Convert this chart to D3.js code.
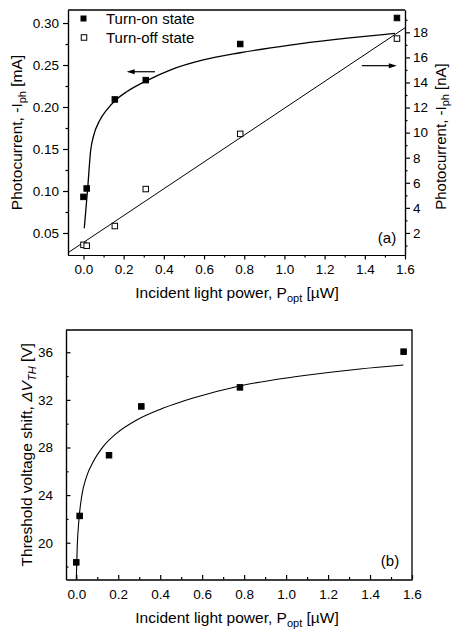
<!DOCTYPE html>
<html>
<head>
<meta charset="utf-8">
<script src="https://cdn.jsdelivr.net/npm/d3@7"></script>
<style>
	body { margin: 0; background: #fff; }
	svg text { font-family: "Liberation Sans", Arial, sans-serif; fill: #000; }
	.axis path, .axis line { stroke: #000; stroke-width: 1.2; }
</style>
</head>
<body>
<div id="chart"></div>
<script>
// incident light power, same for both panels [uW]
const power = [0, 0.016, 0.156, 0.31, 0.78, 1.56];

// panel (a): photocurrent
const turnOn = [0.093, 0.103, 0.209, 0.232, 0.275, 0.306];   // mA, left axis
const turnOff = [1.05, 0.98, 2.55, 5.5, 9.9, 17.5];          // nA, right axis

// fitted curves
const onFitX = [0.004, 0.021, 0.036, 0.049, 0.082, 0.115, 0.165, 0.215, 0.318, 0.431, 0.596, 0.779, 1.028, 1.55];
const onFitY = [0.0556, 0.1032, 0.1488, 0.1646, 0.1845, 0.1964, 0.2092, 0.2182, 0.2318, 0.244, 0.256, 0.2646, 0.2738, 0.2877];
const offFitX = [-0.077, 1.6];
const offFitY = [0.42, 18.36];

// panel (b): threshold voltage shift
const shift = [18.35, 22.25, 27.35, 31.45, 33.05, 36.05];   // V
const shiftFitX = [0.0, 0.0045, 0.0126, 0.0255, 0.049, 0.081, 0.128, 0.192, 0.288, 0.399, 0.494, 0.557, 0.783, 1.034, 1.352, 1.559];
const shiftFitY = [16.92, 19.66, 21.91, 23.87, 25.55, 26.81, 28.07, 29.19, 30.31, 31.2, 31.8, 32.15, 33.19, 33.92, 34.6, 34.93];

// ticks
const xTicks = [0, 0.2, 0.4, 0.6, 0.8, 1.0, 1.2, 1.4, 1.6];
const xMinor = [0.1, 0.3, 0.5, 0.7, 0.9, 1.1, 1.3, 1.5];
const mATicks = [0.05, 0.10, 0.15, 0.20, 0.25, 0.30];
const mAMinor = [0.075, 0.125, 0.175, 0.225, 0.275];
const nATicks = [2, 4, 6, 8, 10, 12, 14, 16, 18];
const nAMinor = [1, 3, 5, 7, 9, 11, 13, 15, 17, 19];
const vTicks = [20, 24, 28, 32, 36];
const vMinor = [18, 22, 26, 30, 34];

const legendLabels = ["Turn-on state", "Turn-off state"];

const W = 452, H = 633;
const svg = d3.select("#chart").append("svg")
	.attr("width", W)
	.attr("height", H);

const line = d3.line()
	.x(d => d[0])
	.y(d => d[1])
	.curve(d3.curveMonotoneX);

function addText(g, parts, attrs, subShift) {
	// parts: {t, sub, i}; sub parts are dropped a few px and drawn smaller
	const ds = subShift || 4;
	let t = g.append("text");
	for (let k in attrs) t.attr(k, attrs[k]);
	let shifted = false;
	parts.forEach(p => {
		let s = t.append("tspan").text(p.t);
		if (p.i) s.style("font-style", "italic");
		if (p.sub) {
			s.attr("font-size", 11).attr("dy", ds);
			shifted = true;
		} else if (shifted) {
			s.attr("dy", -ds);
			shifted = false;
		}
	});
	return t;
}

function square(g, x, y, filled, size) {
	g.append("rect")
		.attr("x", x - size / 2)
		.attr("y", y - size / 2)
		.attr("width", size)
		.attr("height", size)
		.attr("fill", filled ? "#000" : "#fff")
		.attr("stroke", "#000")
		.attr("stroke-width", 1);
}

function arrow(g, x1, x2, y) {
	// shaft from x1 to x2, head at x2
	const dir = x2 > x1 ? 1 : -1;
	g.append("line")
		.attr("x1", x1).attr("x2", x2 - dir * 4)
		.attr("y1", y).attr("y2", y)
		.attr("stroke", "#000").attr("stroke-width", 1.2);
	g.append("path")
		.attr("d", `M${x2},${y}L${x2 - dir * 8},${y - 2.5}L${x2 - dir * 8},${y + 2.5}Z`)
		.attr("fill", "#000");
}

// ---------- panel (a) ----------
const a = { left: 68, right: 405, top: 10, bottom: 255 };

const xA = d3.scaleLinear().domain([-0.077, 1.6]).range([a.left, a.right]);
const yL = d3.scaleLinear().domain([0.0238, 0.3155]).range([a.bottom, a.top]);
const yR = d3.scaleLinear().domain([0.24, 19.78]).range([a.bottom, a.top]);

const gA = svg.append("g");

gA.append("g").attr("class", "axis")
	.attr("transform", `translate(0,${a.bottom})`)
	.call(d3.axisBottom(xA).tickValues(xMinor).tickSize(2.5).tickSizeOuter(0).tickFormat(""));
gA.append("g").attr("class", "axis")
	.attr("transform", `translate(0,${a.bottom})`)
	.call(d3.axisBottom(xA).tickValues(xTicks).tickSize(4.5).tickSizeOuter(0).tickPadding(5).tickFormat(d3.format(".1f")))
	.selectAll("text").attr("font-size", 13.5);

gA.append("g").attr("class", "axis")
	.attr("transform", `translate(${a.left},0)`)
	.call(d3.axisLeft(yL).tickValues(mAMinor).tickSize(2.5).tickSizeOuter(0).tickFormat(""));
gA.append("g").attr("class", "axis")
	.attr("transform", `translate(${a.left},0)`)
	.call(d3.axisLeft(yL).tickValues(mATicks).tickSize(5).tickSizeOuter(0).tickPadding(4).tickFormat(d3.format(".2f")))
	.selectAll("text").attr("font-size", 13.5);

gA.append("g").attr("class", "axis")
	.attr("transform", `translate(${a.right},0)`)
	.call(d3.axisRight(yR).tickValues(nAMinor).tickSize(2.5).tickSizeOuter(0).tickFormat(""));
gA.append("g").attr("class", "axis")
	.attr("transform", `translate(${a.right},0)`)
	.call(d3.axisRight(yR).tickValues(nATicks).tickSize(5).tickSizeOuter(0).tickPadding(3).tickFormat(d3.format("d")))
	.selectAll("text").attr("font-size", 13.5);

gA.selectAll(".axis .domain").attr("stroke-width", 1.3);

// top border
gA.append("line")
	.attr("x1", a.left).attr("x2", a.right)
	.attr("y1", a.top).attr("y2", a.top)
	.attr("stroke", "#000").attr("stroke-width", 1.3);

// fits
gA.append("path")
	.attr("d", line(onFitX.map((x, i) => [xA(x), yL(onFitY[i])])))
	.attr("fill", "none").attr("stroke", "#000").attr("stroke-width", 1.3);
gA.append("path")
	.attr("d", d3.line()(offFitX.map((x, i) => [xA(x), yR(offFitY[i])])))
	.attr("fill", "none").attr("stroke", "#000").attr("stroke-width", 1);

// points
power.forEach((p, i) => square(gA, xA(p), yR(turnOff[i]), false, 5.5));
power.forEach((p, i) => square(gA, xA(p), yL(turnOn[i]), true, 5.5));

// legend
square(gA, 83.5, 18.5, true, 5);
square(gA, 84, 37.5, false, 5.5);
gA.append("text").attr("x", 106).attr("y", 24).attr("font-size", 15).text(legendLabels[0]);
gA.append("text").attr("x", 106).attr("y", 43).attr("font-size", 15).text(legendLabels[1]);

// arrows pointing at the axes
arrow(gA, xA(0.356), xA(0.215), yL(0.242));
arrow(gA, xA(1.385), xA(1.559), yR(15.34));

gA.append("text").attr("x", 387).attr("y", 243).attr("text-anchor", "middle").attr("font-size", 15).text("(a)");

// axis titles
addText(gA, [{ t: "Incident light power, P" }, { t: "opt", sub: true }, { t: " [\u00b5W]" }],
	{ x: 237, y: 298, "text-anchor": "middle", "font-size": 15.5 });
addText(gA, [{ t: "Photocurrent, -I" }, { t: "ph", sub: true }, { t: " [mA]" }],
	{ transform: `translate(21.5,${(a.top + a.bottom) / 2}) rotate(-90)`, "text-anchor": "middle", "font-size": 15.5 });
// right title sits at the page edge, kept just inside it
addText(gA, [{ t: "Photocurrent, -I" }, { t: "ph", sub: true }, { t: " [nA]" }],
	{ transform: `translate(446,${(a.top + a.bottom) / 2 + 4}) rotate(-90)`, "text-anchor": "middle", "font-size": 15 }, 3);

// ---------- panel (b) ----------
const b = { left: 66, right: 412, top: 330, bottom: 579.5 };

const xB = d3.scaleLinear().domain([-0.049, 1.6]).range([b.left, b.right]);
const yB = d3.scaleLinear().domain([16.91, 37.87]).range([b.bottom, b.top]);

const gB = svg.append("g");

gB.append("g").attr("class", "axis")
	.attr("transform", `translate(0,${b.bottom})`)
	.call(d3.axisBottom(xB).tickValues(xMinor).tickSize(-2.5).tickSizeOuter(0).tickFormat(""));
gB.append("g").attr("class", "axis")
	.attr("transform", `translate(0,${b.bottom})`)
	.call(d3.axisBottom(xB).tickValues(xTicks).tickSize(-4.5).tickSizeOuter(0).tickPadding(9.5).tickFormat(d3.format(".1f")))
	.selectAll("text").attr("font-size", 13.5);

gB.append("g").attr("class", "axis")
	.attr("transform", `translate(${b.left},0)`)
	.call(d3.axisLeft(yB).tickValues(vMinor).tickSize(-2.5).tickSizeOuter(0).tickFormat(""));
gB.append("g").attr("class", "axis")
	.attr("transform", `translate(${b.left},0)`)
	.call(d3.axisLeft(yB).tickValues(vTicks).tickSize(-4.5).tickSizeOuter(0).tickPadding(13).tickFormat(d3.format("d")))
	.selectAll("text").attr("font-size", 13.5);

gB.selectAll(".axis .domain").attr("stroke-width", 1.3);

// frame top and right
gB.append("path")
	.attr("d", `M${b.left},${b.top}H${b.right}V${b.bottom}`)
	.attr("fill", "none").attr("stroke", "#000").attr("stroke-width", 1.3);

gB.append("path")
	.attr("d", line(shiftFitX.map((x, i) => [xB(x), yB(shiftFitY[i])])))
	.attr("fill", "none").attr("stroke", "#000").attr("stroke-width", 1.1);

power.forEach((p, i) => square(gB, xB(p), yB(shift[i]), true, 5.5));

gB.append("text").attr("x", 390).attr("y", 566).attr("text-anchor", "middle").attr("font-size", 15).text("(b)");

addText(gB, [{ t: "Incident light power, P" }, { t: "opt", sub: true }, { t: " [\u00b5W]" }],
	{ x: 237, y: 623, "text-anchor": "middle", "font-size": 15.5 });
addText(gB, [{ t: "Threshold voltage shift, " }, { t: "\u0394V", i: true }, { t: "TH", sub: true, i: true }, { t: " [V]" }],
	{ transform: `translate(32,${(b.top + b.bottom) / 2}) rotate(-90)`, "text-anchor": "middle", "font-size": 15.5 });
</script>
</body>
</html>
